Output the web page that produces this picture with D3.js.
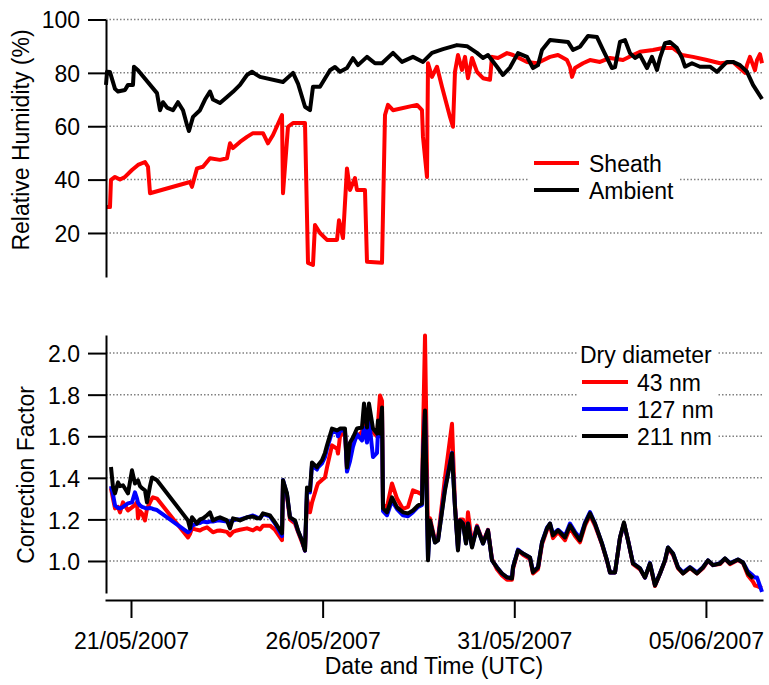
<!DOCTYPE html>
<html>
<head>
<meta charset="utf-8">
<script src="https://cdn.jsdelivr.net/npm/d3@7"></script>
<style>
  body { margin: 0; background: #fff; }
  text { font-family: "Liberation Sans", Arial, sans-serif; fill: #000; }
</style>
</head>
<body>
<div id="chart"></div>
<script>
// times are given as day of May 2007 (values > 31 run on into June)
var ambientDays = [20.348,20.374,20.452,20.583,20.661,20.843,20.922,21.052,21.078,21.183,
  21.678,21.757,21.835,21.939,22.096,22.226,22.357,22.461,22.513,22.618,
  22.800,22.931,23.061,23.139,23.322,23.505,23.661,23.844,24.026,24.157,
  24.366,24.966,25.227,25.357,25.540,25.670,25.748,25.931,26.192,26.322,
  26.453,26.635,26.792,26.922,27.157,27.366,27.549,27.836,28.070,28.357,
  28.618,28.853,29.140,29.505,29.766,30.027,30.184,30.314,30.549,30.705,
  30.888,31.097,31.332,31.488,31.619,31.723,31.932,32.401,32.532,32.714,
  32.923,33.158,33.315,33.549,33.628,33.758,33.888,34.019,34.149,34.280,
  34.462,34.593,34.723,34.802,34.932,35.062,35.245,35.376,35.454,35.636,
  35.845,36.106,36.289,36.419,36.550,36.706,36.889,37.071,37.228,37.463];
var ambientRH = [75.5,80.4,80.3,74,73,73.6,75.5,75.5,82.3,81,
  72.4,66,69,67,66,69,66,60.5,58.2,63.5,
  66,70,73,70,68.7,71,72.9,75.5,79.2,80.4,
  78.5,76.6,80,76,67.3,66,74.8,74.8,81,82.2,
  80.4,81.8,85.5,82.9,86,83.6,83.6,87.5,84.1,86,
  84.1,87.5,88.9,90.4,90,87.5,85.6,86.7,82.3,79.2,
  82,87.4,86,81.8,82.9,88.6,92.3,91.6,88.6,89.8,
  93.8,93.4,88.6,81.8,82.2,91.6,92.3,87.4,85.6,86.7,
  81.8,86,81.1,85.6,91.1,91.6,89.3,85.6,82.3,83.6,
  82.3,82.3,80.4,82.3,84.1,84.1,82.9,80.4,75.5,70.2];

var sheathDays = [20.374,20.452,20.478,20.583,20.713,20.843,21.026,21.183,21.365,21.444,
  21.496,22.539,22.591,22.722,22.878,23.061,23.322,23.505,23.583,23.661,
  23.844,24.026,24.183,24.444,24.574,24.705,24.940,24.966,25.096,25.227,
  25.540,25.618,25.748,25.801,25.931,26.114,26.375,26.427,26.531,26.635,
  26.714,26.844,26.896,27.105,27.157,27.549,27.627,27.705,27.836,28.462,
  28.592,28.618,28.723,28.749,28.853,28.984,29.114,29.323,29.401,29.453,
  29.531,29.636,29.714,29.792,29.897,30.027,30.184,30.366,30.418,30.575,
  30.810,30.966,31.332,31.593,31.932,32.141,32.375,32.453,32.506,32.584,
  32.793,32.975,33.236,33.497,33.836,34.097,34.280,34.619,34.880,35.141,
  35.376,35.662,36.027,36.367,36.706,37.019,37.071,37.149,37.280,37.332,
  37.410,37.463];
var sheathRH = [29.7,29.7,39.9,41,40,41,43.6,45.5,46.6,44.8,
  34.9,39.1,37.3,44.2,44.8,48,47.4,48,53.6,51.8,
  54.1,56,57.4,57.4,53.6,56.7,64.2,34.9,59.8,61.2,
  61.2,8.8,8,23,20,17.4,17.4,24.8,18.1,44.2,
  36.1,40.6,36.1,36.1,9.2,8.8,64.2,68,66,68,
  66,56,41,83.6,78.5,82.3,74.8,63.5,59.8,80.4,
  86.7,81.1,86,78,85.6,80.4,78,77.4,86,85.6,
  87.4,86.7,84.1,83.6,86,86.7,84.8,82.3,78.5,81.8,
  83.6,84.8,84.1,85.6,84.8,86.7,87.9,88.6,89.3,89.3,
  86.7,86,84.8,83.6,84.1,80,82.9,86,81,84.8,
  87,83.6];

// correction factor, one shared time base for the three dry diameters
var cfDays = [20.478,20.530,20.583,20.661,20.713,20.791,20.922,21.026,21.104,21.157,
  21.183,21.235,21.287,21.365,21.417,21.496,21.548,21.574,21.678,22.487,
  22.539,22.591,22.722,22.800,22.878,22.983,23.061,23.139,23.244,23.322,
  23.505,23.583,23.661,23.765,23.844,24.026,24.183,24.287,24.366,24.444,
  24.627,24.757,24.940,24.966,25.070,25.148,25.279,25.357,25.461,25.540,
  25.592,25.670,25.722,25.853,25.879,25.983,26.061,26.114,26.244,26.375,
  26.401,26.453,26.583,26.635,26.714,26.792,26.896,27.027,27.079,27.157,
  27.209,27.314,27.418,27.444,27.496,27.549,27.575,27.679,27.809,27.940,
  28.096,28.227,28.357,28.488,28.592,28.618,28.671,28.749,28.801,28.931,
  29.010,29.192,29.375,29.453,29.531,29.584,29.662,29.740,29.792,29.897,
  30.027,30.184,30.314,30.418,30.549,30.679,30.810,30.940,30.966,31.097,
  31.227,31.410,31.488,31.619,31.723,31.854,31.932,32.010,32.141,32.323,
  32.453,32.584,32.714,32.845,32.975,33.106,33.288,33.419,33.497,33.628,
  33.758,33.862,33.967,34.097,34.280,34.410,34.540,34.671,34.802,34.932,
  35.010,35.141,35.271,35.402,35.584,35.767,35.923,36.054,36.184,36.367,
  36.497,36.628,36.836,36.967,37.097,37.228,37.280,37.332,37.410,37.463];
var cf43 = [1.35,1.30,1.253,1.26,1.234,1.282,1.243,1.258,1.27,1.282,
  1.205,1.24,1.229,1.195,1.25,1.282,1.30,1.306,1.30,1.113,
  1.13,1.157,1.15,1.147,1.155,1.162,1.15,1.138,1.145,1.147,
  1.14,1.123,1.14,1.147,1.15,1.157,1.147,1.16,1.152,1.17,
  1.17,1.15,1.10,1.38,1.31,1.20,1.18,1.14,1.09,1.05,
  1.30,1.234,1.28,1.36,1.373,1.39,1.402,1.45,1.556,1.54,
  1.517,1.60,1.62,1.44,1.50,1.57,1.60,1.62,1.70,1.60,
  1.72,1.62,1.60,1.66,1.796,1.77,1.27,1.26,1.373,1.30,
  1.25,1.26,1.34,1.33,1.32,1.594,2.085,1.10,1.205,1.10,
  1.11,1.40,1.66,1.27,1.07,1.20,1.20,1.10,1.234,1.08,
  1.17,1.09,1.15,1.01,0.96,0.93,0.91,0.91,0.96,1.05,
  1.03,1.01,0.94,0.96,1.08,1.15,1.17,1.11,1.14,1.10,
  1.16,1.12,1.09,1.17,1.22,1.17,1.08,1.00,0.945,0.945,
  1.11,1.18,1.10,0.985,0.96,0.92,0.985,0.88,0.94,1.00,
  1.06,1.03,0.965,0.94,0.965,0.94,0.965,1.00,0.98,0.985,
  1.01,0.985,1.005,0.99,0.93,0.90,0.882,0.88,0.873,0.87];
var cf127 = [1.36,1.32,1.267,1.255,1.253,1.26,1.277,1.282,1.33,1.30,
  1.28,1.267,1.26,1.255,1.253,1.255,1.253,1.25,1.245,1.138,
  1.145,1.17,1.18,1.183,1.19,1.186,1.19,1.19,1.195,1.195,
  1.19,1.19,1.195,1.20,1.20,1.21,1.219,1.21,1.205,1.225,
  1.215,1.18,1.12,1.39,1.32,1.21,1.19,1.145,1.10,1.05,
  1.34,1.33,1.46,1.44,1.45,1.47,1.50,1.54,1.62,1.62,
  1.60,1.625,1.63,1.43,1.48,1.55,1.61,1.58,1.64,1.57,
  1.68,1.50,1.52,1.62,1.60,1.72,1.24,1.22,1.29,1.25,
  1.22,1.215,1.235,1.26,1.27,1.50,1.72,1.01,1.19,1.09,
  1.10,1.35,1.52,1.26,1.055,1.195,1.18,1.085,1.18,1.07,
  1.165,1.084,1.147,1.003,0.97,0.94,0.921,0.92,0.97,1.055,
  1.036,1.017,0.95,0.97,1.09,1.16,1.18,1.13,1.15,1.12,
  1.18,1.14,1.11,1.185,1.235,1.18,1.085,1.003,0.945,0.945,
  1.113,1.18,1.10,0.99,0.965,0.92,0.99,0.885,0.94,1.003,
  1.065,1.036,0.97,0.945,0.97,0.945,0.97,1.003,0.98,0.99,
  1.012,0.99,1.007,0.993,0.95,0.93,0.92,0.921,0.88,0.851];
var cf211 = [1.452,1.356,1.325,1.378,1.36,1.364,1.325,1.436,1.373,1.38,
  1.388,1.36,1.35,1.34,1.282,1.36,1.402,1.40,1.388,1.195,
  1.157,1.21,1.18,1.20,1.205,1.22,1.234,1.195,1.205,1.21,
  1.195,1.157,1.205,1.20,1.195,1.21,1.214,1.205,1.205,1.229,
  1.219,1.186,1.133,1.388,1.325,1.21,1.195,1.147,1.099,1.051,
  1.354,1.34,1.474,1.45,1.46,1.484,1.52,1.556,1.637,1.628,
  1.63,1.637,1.637,1.45,1.57,1.594,1.637,1.642,1.757,1.642,
  1.757,1.637,1.613,1.676,1.613,1.738,1.253,1.234,1.306,1.258,
  1.234,1.229,1.243,1.267,1.277,1.50,1.724,1.003,1.195,1.089,
  1.099,1.34,1.518,1.258,1.051,1.195,1.18,1.084,1.18,1.065,
  1.162,1.084,1.147,1.003,0.969,0.94,0.921,0.916,0.969,1.051,
  1.036,1.017,0.945,0.969,1.089,1.157,1.18,1.123,1.147,1.113,
  1.171,1.133,1.099,1.18,1.229,1.18,1.084,1.003,0.945,0.945,
  1.113,1.186,1.099,0.988,0.964,0.921,0.988,0.882,0.94,1.003,
  1.065,1.036,0.969,0.94,0.969,0.94,0.969,1.003,0.98,0.988,
  1.012,0.988,1.007,0.993,0.94,0.916,null,null,null,null];

var rhTicks = [20, 40, 60, 80, 100];
var cfTicks = [1.0, 1.2, 1.4, 1.6, 1.8, 2.0];
var xTickLabels = ["21/05/2007", "26/05/2007", "31/05/2007", "05/06/2007"];
var rhLegend = ["Sheath", "Ambient"];
var cfLegend = ["43 nm", "127 nm", "211 nm"];

// day of May -> Date
function dayToDate(d) {
    return new Date(Date.UTC(2007, 4, 1) + (d - 1) * 864e5);
}
function pairs(days, vals) {
    return days.map(function(d, i) { return { t: dayToDate(d), v: vals[i] }; });
}

var svgWidth = 769, svgHeight = 685;
var svg = d3.select("#chart").append("svg")
    .attr("width", svgWidth)
    .attr("height", svgHeight);

var left = 106, right = 763;

var xScale = d3.scaleUtc()
    .domain([dayToDate(20.322), dayToDate(37.489)])
    .range([105, right]);

var yRH = d3.scaleLinear().domain([3.5, 100]).range([277, 19.5]);
var yCF = d3.scaleLinear().domain([0.846, 2.087]).range([593, 335]);

// dotted grid lines
function grid(scale, ticks) {
    svg.append("g").selectAll("line")
        .data(ticks)
        .enter()
        .append("line")
        .attr("x1", left)
        .attr("x2", right)
        .attr("y1", d => scale(d))
        .attr("y2", d => scale(d))
        .attr("stroke", "#808080")
        .attr("stroke-width", 1.5)
        .attr("stroke-dasharray", "1.5,2");
}
grid(yRH, rhTicks);
grid(yCF, cfTicks);

// legend backgrounds hide the grid
svg.append("rect").attr("x", 528).attr("y", 146).attr("width", 150).attr("height", 58).attr("fill", "#fff");
svg.append("rect").attr("x", 577).attr("y", 338).attr("width", 140).attr("height", 110).attr("fill", "#fff");

function drawLine(data, yScale, color, w) {
    var line = d3.line()
        .defined(d => d.v != null)
        .x(d => xScale(d.t))
        .y(d => yScale(d.v));
    svg.append("path")
        .datum(data)
        .attr("d", line)
        .attr("fill", "none")
        .attr("stroke", color)
        .attr("stroke-width", w)
        .attr("stroke-linejoin", "round");
}

drawLine(pairs(sheathDays, sheathRH), yRH, "#ff0000", 4);
drawLine(pairs(ambientDays, ambientRH), yRH, "#000000", 4);

drawLine(pairs(cfDays, cf43), yCF, "#ff0000", 4);
drawLine(pairs(cfDays, cf127), yCF, "#0000ff", 4);
drawLine(pairs(cfDays, cf211), yCF, "#000000", 4);

// axes
function styleAxis(g) {
    g.selectAll("path, line").attr("stroke", "#000").attr("stroke-width", 2);
    g.selectAll("text").style("font-size", "23px").attr("fill", "#000");
}

svg.append("g")
    .attr("transform", `translate(${left},0)`)
    .call(d3.axisLeft(yRH).tickValues(rhTicks).tickSize(18).tickSizeOuter(0).tickPadding(8))
    .call(styleAxis)
    .call(g => g.selectAll("text").attr("dy", "0.36em"));

svg.append("g")
    .attr("transform", `translate(${left},0)`)
    .call(d3.axisLeft(yCF).tickValues(cfTicks).tickSize(18).tickSizeOuter(0).tickPadding(8)
        .tickFormat(d3.format(".1f")))
    .call(styleAxis)
    .call(g => g.selectAll("text").attr("dy", "0.38em"));

var parseTick = d3.utcParse("%d/%m/%Y");
svg.append("g")
    .attr("transform", "translate(0,600)")
    .call(d3.axisBottom(xScale)
        .tickValues(xTickLabels.map(parseTick))
        .tickFormat(d3.utcFormat("%d/%m/%Y"))
        .tickSize(18).tickSizeOuter(0).tickPadding(15))
    .call(styleAxis);

// axis titles
svg.append("text")
    .attr("transform", "translate(29,140) rotate(-90)")
    .attr("text-anchor", "middle")
    .style("font-size", "23px")
    .text("Relative Humidity (%)");

svg.append("text")
    .attr("transform", "translate(34,475) rotate(-90)")
    .attr("text-anchor", "middle")
    .style("font-size", "23px")
    .text("Correction Factor");

svg.append("text")
    .attr("x", 434)
    .attr("y", 674)
    .attr("text-anchor", "middle")
    .style("font-size", "23px")
    .text("Date and Time (UTC)");

// legends
var rhColors = ["#ff0000", "#000000"];
rhLegend.forEach(function(name, i) {
    var y = 163 + i * 27;
    svg.append("line").attr("x1", 534).attr("x2", 579).attr("y1", y).attr("y2", y)
        .attr("stroke", rhColors[i]).attr("stroke-width", 4);
    svg.append("text").attr("x", 589).attr("y", y + 8.5)
        .style("font-size", "23px").text(name);
});

svg.append("text").attr("x", 580).attr("y", 363)
    .style("font-size", "23px").text("Dry diameter");
var cfColors = ["#ff0000", "#0000ff", "#000000"];
cfLegend.forEach(function(name, i) {
    var y = 382 + i * 27;
    svg.append("line").attr("x1", 582).attr("x2", 628).attr("y1", y).attr("y2", y)
        .attr("stroke", cfColors[i]).attr("stroke-width", 4);
    svg.append("text").attr("x", 637).attr("y", y + 8.5)
        .style("font-size", "23px").text(name);
});
</script>
</body>
</html>
